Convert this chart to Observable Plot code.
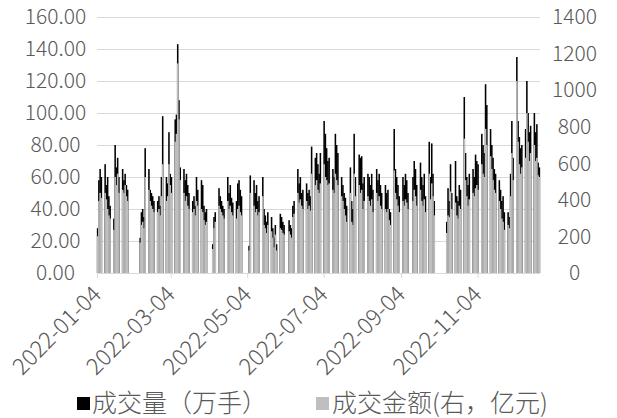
<!DOCTYPE html>
<html><head><meta charset="utf-8">
<script src="https://cdn.jsdelivr.net/npm/d3@7"></script>
<script src="https://cdn.jsdelivr.net/npm/@observablehq/plot@0.6"></script>
<style>
body{margin:0;background:#fff;width:617px;height:418px;overflow:hidden;position:relative;font-family:"Noto Sans CJK SC","Noto Sans",sans-serif;}
#chart{position:absolute;left:0;top:0;}
.leg{position:absolute;font-size:25px;color:#595959;line-height:28px;white-space:nowrap;font-weight:300;}
.sw{position:absolute;width:13px;height:13px;}
</style>
</head><body>
<div id="chart"></div>
<div class="sw" id="sw0" style="left:77px;top:397px;"></div><div class="leg" id="lg0" style="left:92px;top:387px;"></div>
<div class="sw" id="sw1" style="left:316px;top:397px;"></div><div class="leg" id="lg1" style="left:332px;top:387px;"></div>
<script>
// trading days of 2022, by month (Jan..Dec)
const monthDays = [
  [4,5,6,7,10,11,12,13,14,17,18,19,20,21,24,25,26,27,28],
  [7,8,9,10,11,14,15,16,17,18,21,22,23,24,25,28],
  [1,2,3,4,7,8,9,10,11,14,15,16,17,18,21,22,23,24,25,28,29,30,31],
  [1,6,7,8,11,12,13,14,15,18,19,20,21,22,25,26,27,28,29],
  [5,6,9,10,11,12,13,16,17,18,19,20,23,24,25,26,27,30,31],
  [1,2,6,7,8,9,10,13,14,15,16,17,20,21,22,23,24,27,28,29,30],
  [1,4,5,6,7,8,11,12,13,14,15,18,19,20,21,22,25,26,27,28,29],
  [1,2,3,4,5,8,9,10,11,12,15,16,17,18,19,22,23,24,25,26,29,30,31],
  [1,2,5,6,7,8,9,13,14,15,16,19,20,21,22,23,26,27,28,29,30],
  [10,11,12,13,14,17,18,19,20,21,24,25,26,27,28,31],
  [1,2,3,4,7,8,9,10,11,14,15,16,17,18,21,22,23,24,25,28,29,30],
  [1,2,5,6,7,8,9,12,13,14,15,16,19,20,21,22,23]
];
// 成交量（万手）
const volume = [
  28,58,65,60, 68,55,60,48,42, 34,80,66,72,60, 65,58,62,55,52,
  22,38,40,35,78, 65,52,50,48,45, 45,48,42,60,98, 60,
  56,88,62,60, 96,99,143,108,66, 65,58,62,55,50, 45,48,42,60,52, 58,55,42,38,
  40, 18,35,38, 53,48,45,42,40, 60,50,55,47,44, 45,56,58,52,48,
  17,61, 58,50,55,45,48, 60,40,36,32,38, 35,28,22,30,18, 37,35,
  32,30, 33,30,28,42,45, 65,56,60,50,52, 56,50,52,48,79, 72,75,68,62,
  75, 95,87,78,70,72, 65,60,87,80,75, 60,55,50,47,42, 66,45,40,87,60,
  74,72,73,56,60, 62,60,55,62,52, 65,58,62,55,50, 55,50,52,40,38, 90,65,60,
  55,48, 60,55,62,58,50, 60,70,65,55, 69,60,55,62,48, 82,60,81,62,45,
  32,53,45,68,50, 70,48,45,55,52, 110,75,60,55,62, 65,
  60,74,70,68, 87,80,75,118,105, 90,80,72,65,62, 58,52,45,48,38, 38,35,62,
  95,72, 135,95,85,78,80, 90,120,100,88,92, 100,88,93,69,66
];
// 成交金额（亿元，右轴）
const amount = [
  201,394,438,411, 438,403,350,315,298, 236,525,481,543,438, 455,438,481,420,394,
  166,263,280,245,525, 455,394,368,350,333, 333,350,315,420,595, 394,
  420,595,481,438, 718,761,1146,840,508, 438,394,420,368,350, 333,350,315,394,368, 350,333,289,263,
  280, 131,245,280, 368,350,333,315,298, 394,350,368,333,315, 298,350,368,333,315,
  123,438, 368,333,350,315,333, 420,263,245,219,263, 228,193,140,210,123, 245,236,
  219,210, 228,210,193,306,324, 438,385,403,368,350, 394,350,368,341,543, 481,508,455,438,
  490, 595,525,508,481,490, 455,438,543,508,481, 420,394,350,315,280, 438,280,263,543,420,
  481,438,455,350,394, 420,394,368,403,333, 438,394,420,368,350, 350,333,350,289,263, 560,438,403,
  368,333, 394,368,403,385,350, 394,455,420,368, 455,394,368,403,333, 543,403,490,420,315,
  219,315,306,446,350, 385,315,298,368,350, 735,508,420,368,403, 438,
  420,464,481,455, 595,543,525,788,700, 639,569,508,455,438, 394,350,298,280,236, 263,245,420,
  656,508, 1050,718,595,543,578, 630,875,718,613,656, 700,613,630,534,525
];
const leftTicks = [0,20,40,60,80,100,120,140,160];
const rightTicks = [0,200,400,600,800,1000,1200,1400];
const xTickLabels = ["2022-01-04","2022-03-04","2022-05-04","2022-07-04","2022-09-04","2022-11-04"];
const seriesNames = ["成交量（万手）","成交金额(右，亿元)"];
const seriesColors = ["#000000","#bfbfbf"];

const dates = [];
monthDays.forEach((days, m) => days.forEach(d => dates.push(new Date(Date.UTC(2022, m, d)))));
const n = Math.min(dates.length, volume.length, amount.length);
const data = d3.range(n).map(i => ({date: dates[i], volume: volume[i], amount: amount[i]}));
const k = 160 / 1400;
const parse = d3.utcParse("%Y-%m-%d");
const fmt = d3.utcFormat("%Y-%m-%d");

const chart = Plot.plot({
  width: 617, height: 390,
  marginLeft: 97, marginRight: 77, marginTop: 17, marginBottom: 117,
  style: {fontFamily: '"Noto Sans CJK SC","Noto Sans",sans-serif', fontSize: "21px", color: "#595959", background: "#fff", overflow: "visible"},
  x: {type: "utc", domain: [parse("2022-01-04"), parse("2022-12-24")], label: null},
  y: {domain: [0, 160], label: null},
  marks: [
    Plot.ruleY(leftTicks.slice(1), {stroke: "#d9d9d9", strokeWidth: 1}),
    Plot.rectY(data, {x: "date", interval: "day", y: "volume", fill: seriesColors[0], insetLeft: -0.15, insetRight: -0.15}),
    Plot.rectY(data, {x: "date", interval: "day", y: d => d.amount * k, fill: seriesColors[1], insetLeft: -0.15, insetRight: -0.15}),
    Plot.ruleY([0], {stroke: "#d9d9d9", strokeWidth: 1}),
    Plot.axisY(leftTicks, {anchor: "left", label: null, tickSize: 0, tickPadding: 42, textAnchor: "middle", tickFormat: d => d.toFixed(2), fill: "#595959", fontWeight: 300}),
    Plot.axisY(rightTicks.map(t => t * k), {anchor: "right", label: null, tickSize: 0, tickPadding: 34, textAnchor: "middle", tickFormat: d => String(Math.round(d / k)), fill: "#595959", fontWeight: 300}),
    Plot.axisX(xTickLabels.map(parse), {label: null, tickFormat: fmt, tickRotate: -45, tickSize: 5, tickPadding: 12, stroke: "#d9d9d9", fill: "#595959", fontSize: 23, fontWeight: 300})
  ]
});
document.getElementById("chart").appendChild(chart);
["0","1"].forEach(i => {
  document.getElementById("sw" + i).style.background = seriesColors[+i];
  document.getElementById("lg" + i).textContent = seriesNames[+i];
});
</script>
</body></html>
